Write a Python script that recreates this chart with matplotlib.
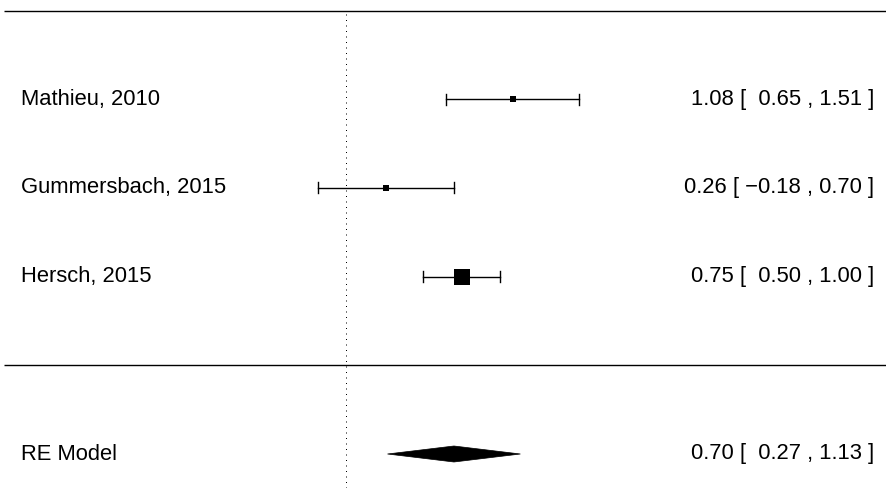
import matplotlib
matplotlib.use("Agg")
import matplotlib.pyplot as plt
from matplotlib.patches import Polygon

# ---- data ----
studies = ["Mathieu, 2010", "Gummersbach, 2015", "Hersch, 2015"]
yi = [1.08, 0.26, 0.75]
ci_lb = [0.65, -0.18, 0.50]
ci_ub = [1.51, 0.70, 1.00]
model_label = "RE Model"
model_est = 0.70
model_lb = 0.27
model_ub = 1.13

# ---- style ----
W, H, DPI = 886, 488, 100
PX_PER_X = 154.5
X0_PX = 345.8
PX_PER_ROW = 88.7
ROW_TOP_PX = 10.5   # pixel of row 4
square_px = [6, 6, 16]

fig = plt.figure(figsize=(W / DPI, H / DPI), dpi=DPI)
ax = fig.add_axes([0, 0, 1, 1])
ax.set_axis_off()

k = len(studies)
xmin = (0 - X0_PX) / PX_PER_X
xmax = (W - X0_PX) / PX_PER_X
ytop = (k + 1) + ROW_TOP_PX / PX_PER_ROW
ybot = ytop - H / PX_PER_ROW
ax.set_xlim(xmin, xmax)
ax.set_ylim(ybot, ytop)

font = ["Liberation Sans", "DejaVu Sans"]
fs = 15.8
line_x0 = (4 - X0_PX) / PX_PER_X

# horizontal lines
ax.plot([line_x0, xmax], [k + 1, k + 1], color="black", lw=1.0, solid_capstyle="butt")
ax.plot([line_x0, xmax], [0, 0], color="black", lw=1.0, solid_capstyle="butt")

# reference line at 0
ax.plot([0, 0], [ybot, k + 1], color="black", lw=0.72, linestyle=(0, (1, 4.5)))

cap = 5.5 / PX_PER_ROW
label_x = (21 - X0_PX) / PX_PER_X
right_x = (874 - X0_PX) / PX_PER_X
base_off = 5.5 / PX_PER_ROW

def fmt(v):
    s = f"{v:.2f}".replace("-", "\u2212")
    return s if v < 0 else " " + s

def annot(e, lb, ub):
    return f"{e:.2f} [ {fmt(lb)} , {ub:.2f} ]"

for i, name in enumerate(studies):
    row = k - i
    ax.plot([ci_lb[i], ci_ub[i]], [row, row], color="black", lw=1.0)
    ax.plot([ci_lb[i], ci_lb[i]], [row - cap, row + cap], color="black", lw=1.0)
    ax.plot([ci_ub[i], ci_ub[i]], [row - cap, row + cap], color="black", lw=1.0)
    ax.plot([yi[i]], [row], marker="s", color="black",
            markersize=square_px[i] * 72 / DPI, markeredgewidth=0)
    ax.text(label_x, row - base_off, name, ha="left", va="baseline", fontsize=fs, family=font)
    ax.text(right_x, row - base_off, annot(yi[i], ci_lb[i], ci_ub[i]),
            ha="right", va="baseline", fontsize=fs, family=font)

# summary diamond
mrow = -1
h = 8 / PX_PER_ROW
diamond = Polygon([[model_lb, mrow], [model_est, mrow + h], [model_ub, mrow],
                   [model_est, mrow - h]], closed=True, facecolor="black",
                  edgecolor="black", lw=0.5)
ax.add_patch(diamond)
ax.text(label_x, mrow - base_off, model_label, ha="left", va="baseline", fontsize=fs, family=font)
ax.text(right_x, mrow - base_off, annot(model_est, model_lb, model_ub),
        ha="right", va="baseline", fontsize=fs, family=font)

fig.savefig("out.png", dpi=DPI)
